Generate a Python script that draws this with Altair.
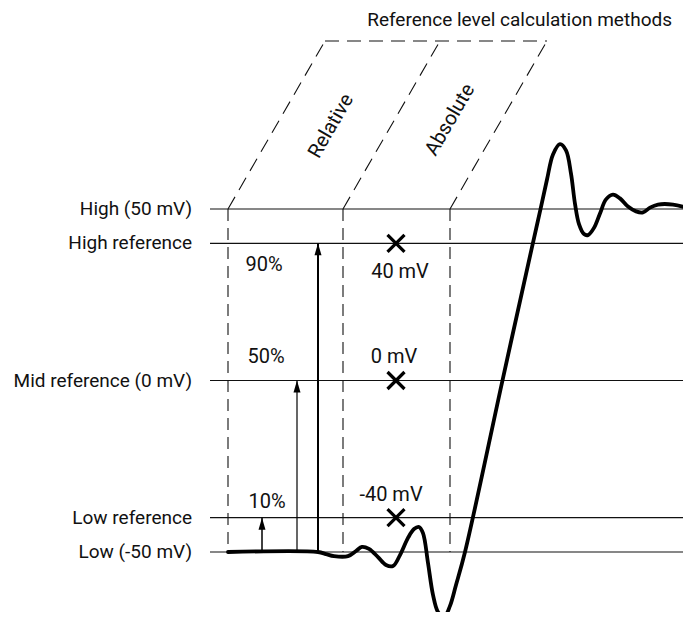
import altair as alt
import pandas as pd

# ---- data (time axis in arbitrary units, level axis in mV) ----
level_names = ["High (50 mV)", "High reference", "Mid reference (0 mV)", "Low reference", "Low (-50 mV)"]
level_mv = [50, 40, 0, -40, -50]
level_line_from = 210
level_line_to = 691
label_x = 192

method_x = [228, 343, 450]          # bottoms of the dashed method boxes
method_top_x = [325, 440, 547]      # tops of the slanted dashed lines
method_top_mv = 99
method_names = ["Relative", "Absolute"]
method_label_x = [331, 450]
method_label_mv = [74.2, 76.0]

title_text = "Reference level calculation methods"
title_x = 672
title_mv = 105.2

pct_text = ["90%", "50%", "10%"]
pct_x = [264, 266, 267]
pct_mv = [33.7, 6.9, -35.4]

abs_text = ["40 mV", "0 mV", "-40 mV"]
abs_x = [400, 394, 391]
abs_mv = [31.6, 6.9, -33.4]

cross_x = [396, 396, 396]
cross_mv = [40, 0, -40]

arrow_x = [262, 297, 318]
arrow_to_mv = [-40, 0, 40]
arrow_w = [1.5, 1.2, 2.0]

wave_t = [228, 318, 326, 334, 348, 356, 362, 369, 378, 386, 393, 400, 408, 414, 419, 423,
          428, 433, 438, 444, 450, 456, 465, 503, 532, 540, 547, 553, 560, 566, 571, 575,
          579, 584, 588, 594, 600, 606, 613, 620, 628, 636, 643, 650, 658, 673, 690]
wave_mv = [-50, -50, -50.6, -51.2, -51.2, -49.7, -48.5, -49.1, -51.5, -53.8, -54.1, -50.9,
           -45.9, -43.3, -42.7, -44.5, -53.2, -62.5, -67.5, -69.0, -65.7, -59.6, -50, 0.7,
           38.9, 49.3, 58.6, 65.9, 68.9, 67.1, 60.3, 51.5, 45.6, 42.7, 42.4, 44.5, 48.7,
           52.8, 54.2, 53.1, 50.7, 49.3, 49.0, 50.4, 51.3, 51.3, 50.1]

# ---- layout ----
W, H = 675, 604
X_DOM = [8, 8 + W]
Y_DOM = [(380.5 - (8 + H)) / 3.43, (380.5 - 8) / 3.43]
FONT = "Roboto"

xs = alt.Scale(domain=X_DOM, nice=False, zero=False)
ys = alt.Scale(domain=Y_DOM, nice=False, zero=False)

def X(f="x"):
    return alt.X(f"{f}:Q", scale=xs, axis=None)

def Y(f="y"):
    return alt.Y(f"{f}:Q", scale=ys, axis=None)

levels = pd.DataFrame({"name": level_names, "y": level_mv,
                       "x": level_line_from, "x2": level_line_to, "lx": label_x})
level_lines = alt.Chart(levels).mark_rule(color="#111", strokeWidth=1.2).encode(
    x=X(), x2="x2:Q", y=Y())
level_labels = alt.Chart(levels).mark_text(
    align="right", baseline="middle", font=FONT, fontSize=19, color="#111").encode(
    x=X("lx"), y=Y(), text="name:N")

verts = pd.DataFrame({"x": method_x, "y": 50, "y2": -50})
vert_lines = alt.Chart(verts).mark_rule(color="#111", strokeWidth=1.1, strokeDash=[12, 7]).encode(
    x=X(), y=Y(), y2="y2:Q")

slants = pd.DataFrame({"x": method_x, "y": 50, "x2": method_top_x, "y2": method_top_mv})
slant_lines = alt.Chart(slants).mark_rule(color="#111", strokeWidth=1.1, strokeDash=[14, 8]).encode(
    x=X(), y=Y(), x2="x2:Q", y2="y2:Q")

top = pd.DataFrame({"x": [method_top_x[0]], "x2": [method_top_x[-1]], "y": [method_top_mv]})
top_line = alt.Chart(top).mark_rule(color="#111", strokeWidth=1.1, strokeDash=[14, 8]).encode(
    x=X(), x2="x2:Q", y=Y())

mlabels = pd.DataFrame({"t": method_names, "x": method_label_x, "y": method_label_mv})
method_text = alt.Chart(mlabels).mark_text(
    align="center", baseline="middle", angle=300, font=FONT, fontSize=20, color="#111").encode(
    x=X(), y=Y(), text="t:N")

ttl = pd.DataFrame({"t": [title_text], "x": [title_x], "y": [title_mv]})
title_mark = alt.Chart(ttl).mark_text(
    align="right", baseline="middle", font=FONT, fontSize=19, color="#111").encode(
    x=X(), y=Y(), text="t:N")

pct = pd.DataFrame({"t": pct_text, "x": pct_x, "y": pct_mv})
pct_mark = alt.Chart(pct).mark_text(
    align="center", baseline="middle", font=FONT, fontSize=20, color="#111").encode(
    x=X(), y=Y(), text="t:N")

absd = pd.DataFrame({"t": abs_text, "x": abs_x, "y": abs_mv})
abs_mark = alt.Chart(absd).mark_text(
    align="center", baseline="middle", font=FONT, fontSize=20, color="#111").encode(
    x=X(), y=Y(), text="t:N")

crosses = pd.DataFrame({"x": cross_x, "y": cross_mv})
cross_mark = alt.Chart(crosses).mark_point(
    shape="M-1,-1L1,1M1,-1L-1,1", size=289, strokeWidth=3.2, color="#000", opacity=1).encode(
    x=X(), y=Y())

arrows = pd.DataFrame({"x": arrow_x, "y": -50, "y2": arrow_to_mv, "w": arrow_w})
arrow_shafts = alt.Chart(arrows).mark_rule(color="#000").encode(
    x=X(), y=Y(), y2="y2:Q",
    strokeWidth=alt.StrokeWidth("w:Q", scale=None, legend=None))
arrow_heads = alt.Chart(arrows).mark_point(
    shape="M0,0L0.35,1.2L-0.35,1.2Z", size=400, filled=True, color="#000", opacity=1).encode(
    x=X(), y=Y("y2"))

wave = pd.DataFrame({"x": wave_t, "y": wave_mv})
wave_mark = alt.Chart(wave).mark_line(
    color="#000", strokeWidth=3.8, interpolate="catmull-rom",
    strokeJoin="round", strokeCap="round").encode(x=X(), y=Y())

chart = alt.layer(
    level_lines, vert_lines, slant_lines, top_line, arrow_shafts, arrow_heads,
    wave_mark, cross_mark, level_labels, method_text, title_mark, pct_mark, abs_mark
).properties(
    width=W, height=H, padding=0,
    autosize=alt.AutoSizeParams(type="none")
).configure(background="white").configure_view(strokeWidth=0)

chart.save("out.html", embed_options={"renderer": "svg", "actions": False})
